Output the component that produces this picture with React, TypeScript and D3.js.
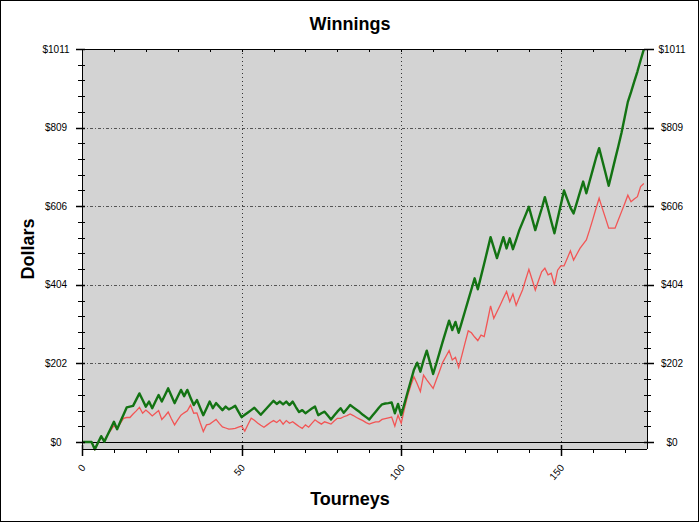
import React from "react";
import * as d3 from "d3";

// winnings per tourney (index = tourney number)
const winningsTotal = [
  0, 0, 0, 0, -19, -2, 15, 1, 18, 35,
  52, 33, 52, 70, 89, 91, 93, 109, 125, 108,
  91, 104, 87, 104, 121, 104, 121, 138, 119, 100,
  117, 134, 118, 134, 114, 95, 108, 88, 69, 86,
  104, 87, 100, 91, 82, 91, 84, 88, 93, 78,
  64, 70, 76, 82, 88, 79, 70, 79, 88, 97,
  106, 98, 104, 97, 104, 95, 104, 90, 77, 82,
  74, 80, 86, 91, 69, 74, 78, 68, 58, 68,
  78, 87, 75, 85, 95, 89, 83, 77, 70, 64,
  58, 68, 78, 88, 97, 99, 100, 102, 74, 98,
  69, 98, 128, 157, 186, 204, 181, 210, 235, 205,
  175, 202, 230, 258, 285, 312, 288, 309, 281, 309,
  337, 365, 393, 421, 393, 426, 459, 493, 527, 500,
  473, 500, 527, 498, 524, 496, 520, 545, 565, 585,
  605, 575, 545, 573, 600, 630, 600, 568, 537, 574,
  610, 647, 625, 603, 588, 615, 643, 670, 640, 670,
  700, 730, 756, 724, 692, 659, 693, 727, 760, 795,
  835, 875, 900, 927, 953, 982, 1010,
];

const winningsNet = [
  0, 0, 0, 0, -19, -3, 12, 4, 18, 30,
  42, 35, 48, 61, 63, 63, 72, 80, 89, 74,
  82, 75, 67, 74, 81, 58, 67, 77, 60, 44,
  57, 69, 75, 80, 95, 74, 75, 50, 27, 44,
  46, 52, 58, 48, 39, 36, 33, 34, 35, 38,
  41, 28, 45, 61, 56, 49, 43, 38, 44, 50,
  55, 50, 57, 46, 55, 48, 52, 46, 40, 35,
  44, 38, 48, 57, 51, 46, 52, 49, 46, 54,
  61, 61, 65, 68, 72, 68, 63, 59, 55, 50,
  46, 49, 52, 52, 58, 60, 62, 64, 41, 69,
  48, 85, 118, 145, 168, 150, 130, 172, 160, 149,
  138, 160, 182, 205, 220, 235, 211, 218, 192, 223,
  255, 286, 281, 270, 261, 275, 271, 310, 350, 318,
  335, 352, 370, 387, 361, 381, 352, 372, 391, 418,
  444, 418, 391, 415, 438, 447, 430, 434, 404, 442,
  453, 453, 472, 492, 468, 483, 498, 509, 520, 545,
  572, 600, 627, 601, 576, 550, 550, 550, 571, 592,
  613, 635, 618, 625, 631, 657, 665,
];

const yTickValues = [0, 202.2, 404.4, 606.6, 808.8, 1011];
const yTickLabels = ["$0", "$202", "$404", "$606", "$809", "$1011"];
const xTickValues = [0, 50, 100, 150];

const W = 700;
const H = 523;
const plot = { left: 82, right: 647, top: 49, bottom: 449 };
const font = "'Liberation Sans', Arial, sans-serif";

const App = () => {
  const x = d3.scaleLinear().domain([0, 177]).range([plot.left, plot.right]);
  const y = d3.scaleLinear().domain([-18, 1011]).range([plot.bottom, plot.top]);

  const line = d3
    .line<number>()
    .x((_, i) => x(i))
    .y((d) => y(d));

  const minorY = d3.range(0, 26).map((k) => (1011 / 25) * k);
  const minorX = d3.range(0, 177, 10);

  return (
    <svg
      width={W}
      height={H}
      style={{ position: "absolute", left: 0, top: 0, background: "#fff" }}
      fontFamily={font}
    >
      <rect x={0.5} y={0.5} width={698} height={521} fill="#fff" stroke="#000" />

      {/* plot background */}
      <rect
        x={plot.left}
        y={plot.top}
        width={plot.right - plot.left}
        height={plot.bottom - plot.top}
        fill="#d3d3d3"
      />

      {/* grid */}
      {yTickValues.slice(1).map((v) => (
        <line
          key={"gy" + v}
          x1={plot.left}
          x2={plot.right}
          y1={Math.round(y(v)) + 0.5}
          y2={Math.round(y(v)) + 0.5}
          stroke="#555"
          strokeDasharray="3,2,1,2"
        />
      ))}
      {xTickValues.slice(1).map((v) => (
        <line
          key={"gx" + v}
          x1={Math.round(x(v)) + 0.5}
          x2={Math.round(x(v)) + 0.5}
          y1={plot.top}
          y2={plot.bottom}
          stroke="#333"
          strokeDasharray="1,3"
        />
      ))}

      {/* zero line */}
      <line
        x1={plot.left - 5}
        x2={plot.right + 7}
        y1={Math.round(y(0)) + 0.5}
        y2={Math.round(y(0)) + 0.5}
        stroke="#000"
        strokeWidth={1.2}
      />

      {/* series */}
      <path d={line(winningsNet) || ""} fill="none" stroke="#f25555" strokeWidth={1.3} />
      <path d={line(winningsTotal) || ""} fill="none" stroke="#137313" strokeWidth={2.4} strokeLinejoin="round" />

      {/* frame */}
      <line x1={plot.left} x2={plot.right} y1={plot.top + 0.5} y2={plot.top + 0.5} stroke="#000" />
      <line x1={plot.left} x2={plot.right} y1={plot.bottom + 0.5} y2={plot.bottom + 0.5} stroke="#000" />
      <line x1={plot.left + 0.5} x2={plot.left + 0.5} y1={plot.top} y2={plot.bottom + 7} stroke="#000" />
      <line x1={plot.right + 0.5} x2={plot.right + 0.5} y1={plot.top} y2={plot.bottom} stroke="#000" />

      {/* y ticks, both sides */}
      {minorY.map((v, k) => {
        const yy = Math.round(y(v)) + 0.5;
        const major = k % 5 === 0;
        return (
          <g key={"ty" + k}>
            <line x1={plot.left - (major ? 6 : 4)} x2={plot.left + 3} y1={yy} y2={yy} stroke="#000" strokeWidth={major ? 1.5 : 1} />
            <line x1={plot.right - 3} x2={plot.right + (major ? 7 : 4)} y1={yy} y2={yy} stroke="#000" strokeWidth={major ? 1.5 : 1} />
          </g>
        );
      })}
      {yTickValues.map((v, i) => (
        <g key={"ly" + i} fontSize={10} fill="#000">
          <text x={56} y={y(v)} dy="0.35em" textAnchor="middle">
            {yTickLabels[i]}
          </text>
          <text x={672} y={y(v)} dy="0.35em" textAnchor="middle">
            {yTickLabels[i]}
          </text>
        </g>
      ))}

      {/* x ticks, bottom and top */}
      {minorX.map((v) => {
        const xx = Math.round(x(v)) + 0.5;
        const major = v % 50 === 0;
        return (
          <g key={"tx" + v}>
            <line x1={xx} x2={xx} y1={plot.bottom - (major ? 4 : 0)} y2={plot.bottom + (major ? 7 : 4)} stroke="#000" strokeWidth={major ? 1.5 : 1} />
            <line x1={xx} x2={xx} y1={plot.top} y2={plot.top + 3} stroke="#000" />
          </g>
        );
      })}
      {xTickValues.map((v) => (
        <text
          key={"lx" + v}
          transform={`translate(${x(v) + 4},${plot.bottom + 19}) rotate(-50)`}
          textAnchor="end"
          fontSize={10}
          fill="#000"
        >
          {v}
        </text>
      ))}

      {/* titles */}
      <text x={350} y={30} textAnchor="middle" fontSize={18} fontWeight="bold">
        Winnings
      </text>
      <text x={350} y={505} textAnchor="middle" fontSize={18} fontWeight="bold">
        Tourneys
      </text>
      <text
        transform={`translate(34,${(plot.top + plot.bottom) / 2}) rotate(-90)`}
        textAnchor="middle"
        fontSize={18}
        fontWeight="bold"
      >
        Dollars
      </text>
    </svg>
  );
};

export default App;
